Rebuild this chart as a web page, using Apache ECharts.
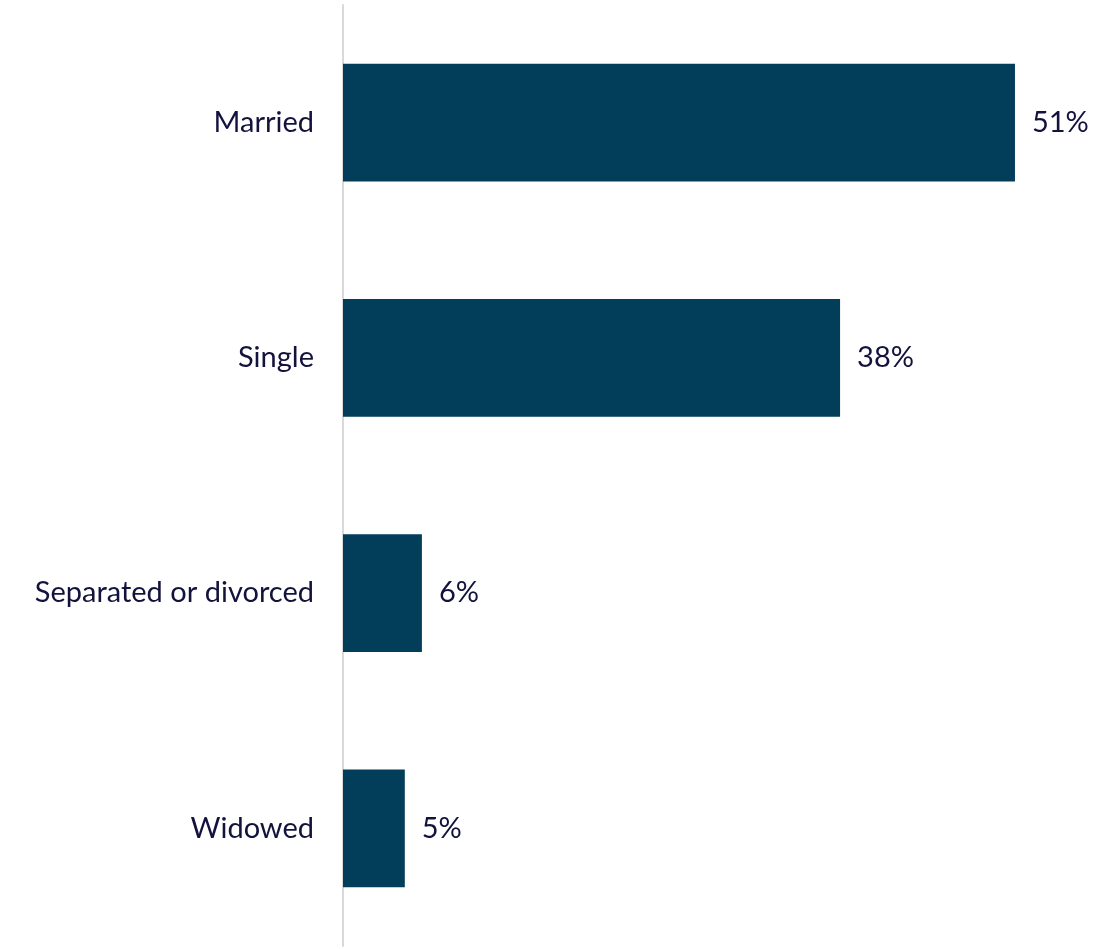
<!DOCTYPE html>
<html><head><meta charset="utf-8">
<script src="https://cdn.jsdelivr.net/npm/echarts@6/dist/echarts.min.js"></script>
<style>html,body{margin:0;padding:0;background:#fff}#c{width:1099px;height:949px}</style>
</head><body><div id="c"></div>
<script>
const categories = ["Married", "Single", "Separated or divorced", "Widowed"];
const values = [51.1, 37.8, 6.0, 4.7];

const chart = echarts.init(document.getElementById('c'), null, {renderer: 'canvas'});
const fontFamily = "Lato, 'Open Sans', sans-serif";
chart.setOption({
  animation: false,
  grid: {left: 343, right: 1099 - 343 - 55 * 13.15, top: 5, bottom: 3, containLabel: false},
  xAxis: {type: 'value', min: 0, max: 55, show: false},
  yAxis: {
    type: 'category', data: categories, inverse: true,
    axisLine: {show: true, lineStyle: {color: '#d9d9d9', width: 2}},
    axisTick: {show: false},
    axisLabel: {color: '#12123d', fontSize: 29, fontFamily: fontFamily, margin: 29}
  },
  series: [{
    type: 'bar', data: values, barWidth: '50%',
    itemStyle: {color: '#023d5a'},
    label: {show: true, position: 'right', distance: 17, color: '#12123d', fontSize: 29, fontFamily: fontFamily,
      formatter: p => Math.round(p.value) + '%'}
  }]
});
</script></body></html>
